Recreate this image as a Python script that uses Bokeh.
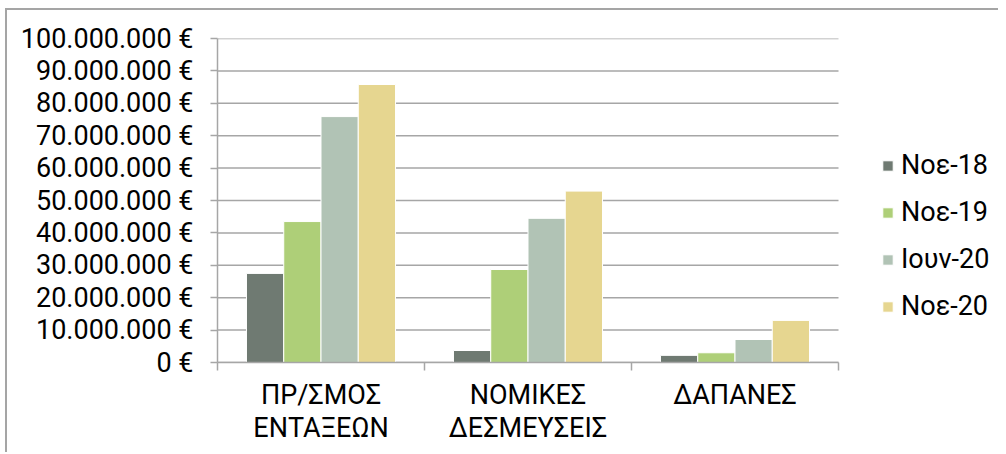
import numpy as np
from bokeh.plotting import figure
from bokeh.models import ColumnDataSource, FixedTicker, Range1d, Legend, LegendItem
from bokeh.embed import file_html
from bokeh.resources import INLINE

categories = ["ΠΡ/ΣΜΟΣ\nΕΝΤΑΞΕΩΝ", "ΝΟΜΙΚΕΣ\nΔΕΣΜΕΥΣΕΙΣ", "ΔΑΠΑΝΕΣ"]
series_names = ["Noε-18", "Noε-19", "Ιουν-20", "Noε-20"]
noe18 = [27.5e6, 3.7e6, 2.2e6]
noe19 = [43.5e6, 28.7e6, 3.0e6]
iouv20 = [75.9e6, 44.5e6, 7.1e6]
noe20 = [85.8e6, 52.9e6, 13.0e6]
series_values = [noe18, noe19, iouv20, noe20]
colors = ["#6f7a72", "#aecf78", "#b1c3b5", "#e6d690"]
y_ticks = [0, 10e6, 20e6, 30e6, 40e6, 50e6, 60e6, 70e6, 80e6, 90e6, 100e6]
y_tick_labels = ["0 €", "10.000.000 €", "20.000.000 €", "30.000.000 €", "40.000.000 €",
                 "50.000.000 €", "60.000.000 €", "70.000.000 €", "80.000.000 €",
                 "90.000.000 €", "100.000.000 €"]

FONT = "Roboto"
GRID = "#a6a6a6"

W, H = 993, 444
B_LEFT, B_RIGHT, B_TOP, B_BOTTOM = 210, 5, 28, 92
CAT_PX = 207.0  # pixel width of one category slot
n = len(categories)
x_end = (W - B_LEFT - B_RIGHT) / CAT_PX  # extra room on the right holds the legend

p = figure(width=W, height=H, output_backend="svg", toolbar_location=None,
           x_range=Range1d(0, x_end), y_range=Range1d(0, 100e6),
           min_border_left=B_LEFT, min_border_right=B_RIGHT, min_border_top=B_TOP,
           min_border_bottom=B_BOTTOM)
p.outline_line_color = None
p.styles = {"margin-left": "5px", "margin-top": "8px",
            "border-left": "2px solid #a5a5a5", "border-top": "2px solid #a5a5a5"}

# horizontal gridlines limited to the category area
p.segment(x0=[0] * len(y_ticks), x1=[n] * len(y_ticks), y0=y_ticks, y1=y_ticks,
          line_color=GRID, line_width=1.5, level="underlay")

centers = np.arange(n) + 0.5
bar_w = 0.18
offsets = [-1.5 * bar_w, -0.5 * bar_w, 0.5 * bar_w, 1.5 * bar_w]
renderers = []
for name, vals, col, off in zip(series_names, series_values, colors, offsets):
    src = ColumnDataSource(dict(x=centers + off, top=vals))
    r = p.vbar(x="x", top="top", width=bar_w, bottom=0, source=src,
               fill_color=col, line_color="white", line_width=1)
    renderers.append((name, r))

# x axis
p.xaxis.bounds = (0, n)
p.xaxis.ticker = FixedTicker(ticks=list(centers), minor_ticks=list(range(n + 1)))
p.xaxis.major_label_overrides = {float(c): lab for c, lab in zip(centers, categories)}
p.xaxis.major_tick_out = 0
p.xaxis.major_tick_in = 0
p.xaxis.minor_tick_out = 8
p.xaxis.minor_tick_in = 0
p.xaxis.minor_tick_line_color = GRID
p.xaxis.minor_tick_line_width = 1.5
p.xaxis.axis_line_color = GRID
p.xaxis.axis_line_width = 1.5
p.xaxis.major_label_text_font = FONT
p.xaxis.major_label_text_font_size = "27px"
p.xaxis.major_label_text_line_height = 1.05
p.xaxis.major_label_text_color = "#000000"
p.xaxis.major_label_standoff = 8
p.xgrid.grid_line_color = None

# y axis
p.yaxis.ticker = FixedTicker(ticks=y_ticks, minor_ticks=[])
p.yaxis.major_label_overrides = {float(t): lab for t, lab in zip(y_ticks, y_tick_labels)}
p.yaxis.major_tick_out = 7
p.yaxis.major_tick_in = 0
p.yaxis.major_tick_line_color = GRID
p.yaxis.major_tick_line_width = 1.5
p.yaxis.axis_line_color = GRID
p.yaxis.axis_line_width = 1.5
p.yaxis.major_label_text_font = FONT
p.yaxis.major_label_text_font_size = "27px"
p.yaxis.major_label_text_color = "#000000"
p.yaxis.major_label_standoff = 17
p.ygrid.grid_line_color = None

legend = Legend(items=[LegendItem(label=nm, renderers=[r]) for nm, r in renderers],
                location=(664, 40), orientation="vertical",
                label_text_font=FONT, label_text_font_size="27px",
                label_text_color="#000000",
                glyph_width=13, glyph_height=13, label_height=30, label_standoff=7,
                spacing=15, padding=0, margin=0,
                border_line_color=None, background_fill_alpha=0)
p.add_layout(legend, "center")

open("out.html", "w").write(file_html(p, INLINE))
